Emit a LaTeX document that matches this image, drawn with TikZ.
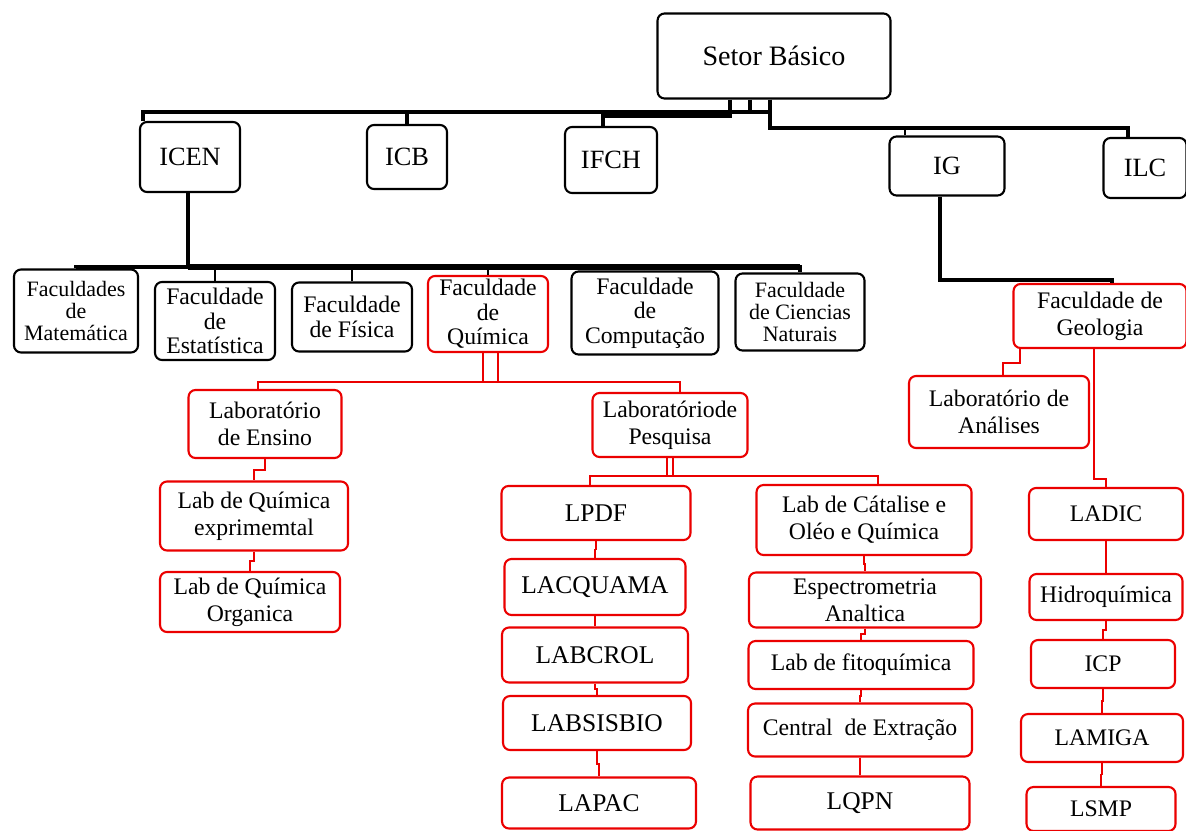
\documentclass[tikz,border=0pt]{standalone}
\usepackage{fontspec}
\setmainfont{Liberation Serif}
\usetikzlibrary{calc}
\definecolor{labred}{RGB}{235,0,0}

\begin{document}
\begin{tikzpicture}[
                x=0.02cm, y=-0.02cm,
                every node/.style={rectangle, rounded corners=4pt, align=center, inner sep=1pt},
                blackbox/.style={draw=black, line width=1.2pt, fill=white},
                inst/.style={blackbox, font=\fontsize{15}{17}\selectfont},
                fac/.style={blackbox, font=\fontsize{13.5}{14}\selectfont},
                facsm/.style={blackbox, font=\fontsize{12.5}{12.5}\selectfont},
                redbox/.style={draw=labred, line width=1.2pt, fill=white, font=\fontsize{13.5}{15.5}\selectfont},
                bigred/.style={redbox, font=\fontsize{14.5}{16}\selectfont},
                bus/.style={line width=2pt},
                heavybus/.style={line width=3pt},
                tick/.style={line width=1pt},
                redline/.style={draw=labred, line width=1.4pt},
                thinred/.style={draw=labred, line width=1pt},
                elbow/.style={to path={(\tikztostart) |- ($(\tikztostart)!0.5!(\tikztotarget)$) -| (\tikztotarget)}}]
            \path[use as bounding box, fill=white] (0,0) rectangle (1186,831);

            % Setor e institutos
            \node[blackbox, minimum width=4.66cm, minimum height=1.7cm, font=\fontsize{16}{18}\selectfont] (setor) at (774,56) {Setor Básico};
            \node[inst, minimum width=2cm, minimum height=1.4cm] (icen) at (190,157) {ICEN};
            \node[inst, minimum width=1.6cm, minimum height=1.28cm] (icb) at (407,157) {ICB};
            \node[inst, minimum width=1.84cm, minimum height=1.32cm] (ifch) at (611,160) {IFCH};
            \node[inst, minimum width=2.3cm, minimum height=1.18cm] (ig) at (947,166) {IG};
            \node[inst, minimum width=1.66cm, minimum height=1.2cm] (ilc) at (1145,168) {ILC};

            % Faculdades
            \node[facsm, minimum width=2.48cm, minimum height=1.66cm] (fmat) at (76,311) {Faculdades\\de\\Matemática};
            \node[fac, minimum width=2.4cm, minimum height=1.56cm] (fest) at (215,321) {Faculdade\\de\\Estatística};
            \node[fac, minimum width=2.4cm, minimum height=1.38cm] (ffis) at (352,317) {Faculdade\\de Física};
            \node[redbox, font=\fontsize{13.5}{14}\selectfont, minimum width=2.4cm, minimum height=1.52cm] (fqui) at (488,314) {Faculdade\\de\\Química};
            \node[fac, minimum width=2.94cm, minimum height=1.66cm] (fcomp) at (645,313) {Faculdade\\de\\Computação};
            \node[facsm, minimum width=2.58cm, minimum height=1.54cm] (fcn) at (800,312) {Faculdade\\de Ciencias\\Naturais};
            \node[redbox, minimum width=3.46cm, minimum height=1.28cm] (fgeo) at (1100,316) {Faculdade de\\Geologia};

            % Laboratorios
            \node[redbox, minimum width=3.06cm, minimum height=1.36cm] (lensino) at (265,424) {Laboratório\\de Ensino};
            \node[redbox, minimum width=3.1cm, minimum height=1.28cm] (lpesq) at (670,425) {Laboratóriode\\Pesquisa};
            \node[redbox, minimum width=3.6cm, minimum height=1.44cm] (lanal) at (999,412) {Laboratório de\\Análises};

            \node[redbox, minimum width=3.76cm, minimum height=1.38cm] (lqexp) at (254,516) {Lab de Química\\exprimemtal};
            \node[redbox, minimum width=3.6cm, minimum height=1.2cm] (lqorg) at (250,602) {Lab de Química\\Organica};

            \node[bigred, minimum width=3.78cm, minimum height=1.08cm] (lpdf) at (596,513) {LPDF};
            \node[bigred, minimum width=3.62cm, minimum height=1.12cm] (lacq) at (595,587) {LACQUAMA};
            \node[bigred, minimum width=3.72cm, minimum height=1.1cm] (labcrol) at (595,655) {LABCROL};
            \node[bigred, minimum width=3.76cm, minimum height=1.08cm] (labsis) at (597,723) {LABSISBIO};
            \node[bigred, minimum width=3.88cm, minimum height=1.02cm] (lapac) at (599,803) {LAPAC};

            \node[redbox, minimum width=4.3cm, minimum height=1.4cm] (lcat) at (864,520) {Lab de Cátalise e\\Oléo e Química};
            \node[redbox, minimum width=4.64cm, minimum height=1.1cm] (lespec) at (865,600) {Espectrometria\\Analtica};
            \node[redbox, minimum width=4.5cm, minimum height=0.96cm] (lfito) at (861,665) {Lab de fitoquímica};
            \node[redbox, minimum width=4.48cm, minimum height=1.06cm] (lcentral) at (860,730) {Central~ de Extração};
            \node[bigred, minimum width=4.38cm, minimum height=1.06cm] (lqpn) at (860,803) {LQPN};

            \node[redbox, minimum width=3.08cm, minimum height=1.04cm] (ladic) at (1106,514) {LADIC};
            \node[redbox, minimum width=3.06cm, minimum height=0.92cm] (lhidro) at (1106,597) {Hidroquímica};
            \node[redbox, minimum width=2.88cm, minimum height=0.96cm] (licp) at (1103,664) {ICP};
            \node[redbox, minimum width=3.24cm, minimum height=0.96cm] (lamiga) at (1102,738) {LAMIGA};
            \node[redbox, minimum width=2.98cm, minimum height=0.88cm] (lsmp) at (1101,809) {LSMP};

            % Niveis das ligacoes
            \coordinate (busA) at (0,112);
            \coordinate (busA2) at (0,116);
            \coordinate (busB) at (0,128);
            \coordinate (busC) at (0,267);
            \coordinate (busD) at (0,280);
            \coordinate (busE) at (0,382);
            \coordinate (busF) at (0,476);

            % Ligacoes pretas
            \draw[bus] ([xshift=-0.08cm]setor.south) |- ([xshift=-0.94cm]icen.north |- busA) -- ([xshift=-0.94cm]icen.north);
            \draw[bus] ([xshift=-0.48cm]setor.south) |- (icb.north |- busA) -- (icb.north);
            \draw[bus] ([xshift=-0.88cm]setor.south) |- ([xshift=-0.16cm]ifch.north |- busA2) -- ([xshift=-0.16cm]ifch.north);
            \draw[bus] ([xshift=-0.08cm]setor.south) |- ([xshift=-0.34cm]ilc.north |- busB) -- ([xshift=-0.34cm]ilc.north);
            \draw[tick] ([xshift=-0.84cm]ig.north) -- ([xshift=-0.84cm]ig.north |- busB);

            \draw[bus] ([xshift=-0.04cm]icen.south) -- ([xshift=-0.04cm]icen.south |- busC);
            \draw[heavybus] ([xshift=-0.04cm]icen.south |- busC) -- (fcn.north |- busC);
            \draw[bus] (fmat.north) |- (fcn.north |- busC) -- (fcn.north);
            \foreach \f in {fest, ffis, fqui, fcomp}
                \draw[tick] (\f.north) -- (\f.north |- busC);

            \draw[bus] ([xshift=-0.14cm]ig.south) |- ([xshift=0.24cm]fgeo.north |- busD) -- ([xshift=0.24cm]fgeo.north);

            % Ligacoes vermelhas
            \draw[redline] ([xshift=-0.1cm]fqui.south) |- ([xshift=0.2cm]lpesq.north |- busE) -- ([xshift=0.2cm]lpesq.north);
            \draw[redline] ([xshift=0.2cm]fqui.south) |- ([xshift=-0.14cm]lensino.north |- busE) -- ([xshift=-0.14cm]lensino.north);
            \draw[redline] ([xshift=-0.06cm]lpesq.south) |- ([xshift=0.28cm]lcat.north |- busF) -- ([xshift=0.28cm]lcat.north);
            \draw[redline] ([xshift=0.06cm]lpesq.south) |- ([xshift=-0.12cm]lpdf.north |- busF) -- ([xshift=-0.12cm]lpdf.north);

            \draw[redline] ([xshift=-1.6cm]fgeo.south) -- ++(0,14) -| ([xshift=0.08cm]lanal.north);
            \draw[redline] ([xshift=-0.12cm]fgeo.south) -- ++(0,130) -| (ladic.north);

            \foreach \a/\b in {lensino/lqexp, lqexp/lqorg, lpdf/lacq, lacq/labcrol, labcrol/labsis, labsis/lapac,
                               lcat/lespec, lespec/lfito, lfito/lcentral, lcentral/lqpn,
                               ladic/lhidro, lhidro/licp, licp/lamiga, lamiga/lsmp}
                \draw[thinred] (\a.south) to[elbow] (\b.north);

        \end{tikzpicture}
\end{document}
